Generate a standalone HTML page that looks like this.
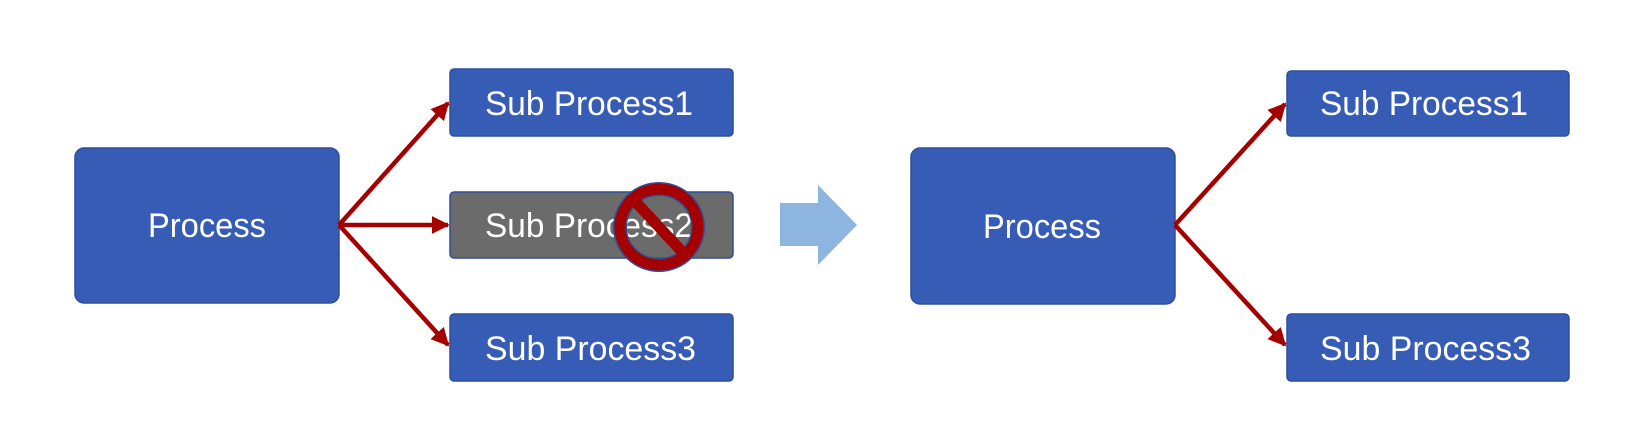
<!DOCTYPE html>
<html><head><meta charset="utf-8"><style>
html,body{margin:0;padding:0;background:#fff;width:1650px;height:444px;overflow:hidden}
</style></head><body>
<svg width="1650" height="444" viewBox="0 0 1650 444" xmlns="http://www.w3.org/2000/svg" font-family="Liberation Sans, sans-serif" font-size="34" fill="#fff">
<defs>
<marker id="ah" markerWidth="4" markerHeight="4" refX="3.6" refY="2" orient="auto" markerUnits="strokeWidth">
<path d="M0,0 L4,2 L0,4 Z" fill="#A50000"/></marker>
</defs>
<g stroke="#2F4F9A" stroke-width="1.5">
<rect x="75" y="148" width="264" height="155" rx="9" fill="#375CB5"/>
<rect x="450" y="69" width="283" height="67" rx="4" fill="#375CB5"/>
<rect x="450" y="192" width="283" height="66" rx="4" fill="#6B6B6B"/>
<rect x="450" y="314" width="283" height="67" rx="4" fill="#375CB5"/>
<rect x="911" y="148" width="264" height="156" rx="9" fill="#375CB5"/>
<rect x="1287" y="71" width="282" height="65" rx="4" fill="#375CB5"/>
<rect x="1287" y="314" width="282" height="67" rx="4" fill="#375CB5"/>
</g>
<g stroke="#A50000" stroke-width="4.5" fill="none" marker-end="url(#ah)">
<line x1="339" y1="225" x2="448" y2="103"/>
<line x1="339" y1="225" x2="448" y2="225"/>
<line x1="339" y1="225" x2="448" y2="345"/>
<line x1="1175" y1="225" x2="1285" y2="104"/>
<line x1="1175" y1="225" x2="1285" y2="345"/>
</g>
<g>
<text x="148" y="237" textLength="118" lengthAdjust="spacingAndGlyphs">Process</text>
<text x="485" y="115" textLength="208" lengthAdjust="spacingAndGlyphs">Sub Process1</text>
<text x="485" y="237" textLength="208" lengthAdjust="spacingAndGlyphs">Sub Process2</text>
<text x="485" y="360" textLength="211" lengthAdjust="spacingAndGlyphs">Sub Process3</text>
<text x="983" y="238" textLength="118" lengthAdjust="spacingAndGlyphs">Process</text>
<text x="1320" y="115" textLength="208" lengthAdjust="spacingAndGlyphs">Sub Process1</text>
<text x="1320" y="360" textLength="211" lengthAdjust="spacingAndGlyphs">Sub Process3</text>
</g>
<g>
<ellipse cx="659" cy="227" rx="39" ry="38" fill="none" stroke="#2F4F9A" stroke-width="14"/>
<ellipse cx="659" cy="227" rx="39" ry="38" fill="none" stroke="#A50000" stroke-width="11"/>
<line x1="633" y1="199" x2="686" y2="256" stroke="#A50000" stroke-width="11"/>
</g>
<polygon points="780,203 818,203 818,185 857,225 818,265 818,246 780,246" fill="#8EB4E0"/>
</svg>
</body></html>
